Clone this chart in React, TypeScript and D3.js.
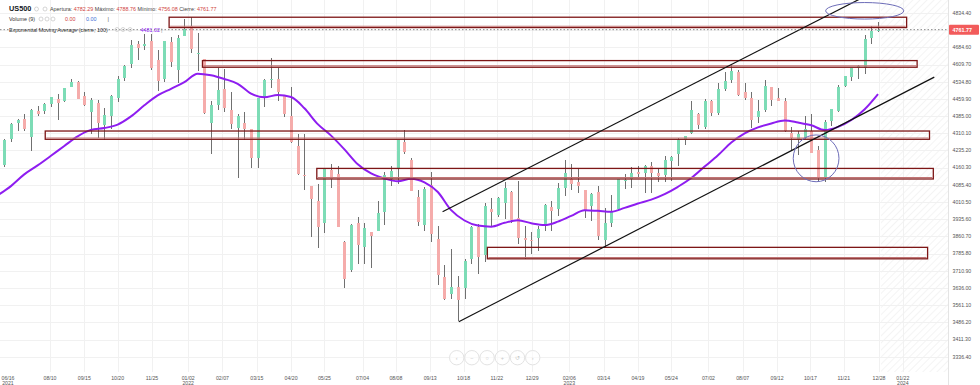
import React, { useEffect, useRef } from "react";
import * as d3 from "d3";

// weekly candles, first week starts on this monday
const firstMonday = "2021-06-14";

const opens = [
  4248, 4174, 4284, 4356, 4372, 4296, 4409, 4406, 4437, 4461,
  4450, 4514, 4535, 4474, 4402, 4443, 4348, 4385, 4463, 4553,
  4610, 4701, 4689, 4712, 4628, 4548, 4710, 4587, 4733, 4778,
  4655, 4632, 4357, 4432, 4505, 4412, 4332, 4354, 4327, 4202,
  4462, 4541, 4547, 4474, 4386, 4255, 4130, 4082, 4013, 3920,
  4151, 4134, 3838, 3715, 3920, 3814, 3880, 3883, 3966, 4112,
  4155, 4270, 4195, 4034, 3910, 4084, 3849, 3682, 3609, 3639,
  3638, 3762, 3901, 3780, 3978, 3956, 4005, 4053, 3939, 3853,
  3843, 3853, 3910, 3989, 3979, 4071, 4111, 4097, 4062, 3992,
  4055, 3845, 3917, 3982, 4102, 4110, 4140, 4135, 4166, 4136,
  4127, 4190, 4220, 4282, 4310, 4396, 4337, 4450, 4399, 4502,
  4543, 4578, 4492, 4464, 4380, 4411, 4510, 4462, 4452, 4310,
  4284, 4290, 4321, 4238, 4120, 4364, 4406, 4515, 4555, 4594,
  4593, 4725, 4759,
];
const highs = [
  4257, 4286, 4356, 4372, 4394, 4415, 4429, 4441, 4469, 4480,
  4509, 4545, 4536, 4492, 4465, 4457, 4419, 4475, 4559, 4608,
  4718, 4714, 4743, 4744, 4672, 4713, 4731, 4740, 4808, 4818,
  4749, 4632, 4453, 4595, 4590, 4490, 4396, 4402, 4327, 4466,
  4546, 4637, 4594, 4471, 4513, 4309, 4308, 4082, 4090, 4158,
  4178, 4169, 3839, 3913, 3946, 3919, 3880, 4013, 4140, 4168,
  4280, 4325, 4203, 4062, 4077, 4140, 3907, 3736, 3807, 3686,
  3762, 3905, 3914, 4005, 4028, 4034, 4100, 4060, 4101, 3906,
  3878, 3906, 4003, 4015, 4095, 4195, 4176, 4156, 4062, 4048,
  4079, 3983, 4040, 4110, 4133, 4164, 4169, 4170, 4187, 4154,
  4212, 4212, 4290, 4300, 4449, 4400, 4458, 4456, 4528, 4578,
  4607, 4584, 4528, 4490, 4455, 4541, 4514, 4509, 4466, 4338,
  4319, 4385, 4393, 4255, 4366, 4418, 4521, 4560, 4596, 4609,
  4738, 4778, 4793,
];
const lows = [
  4165, 4164, 4272, 4321, 4322, 4233, 4385, 4393, 4424, 4367,
  4445, 4513, 4458, 4427, 4306, 4289, 4279, 4330, 4447, 4537,
  4595, 4630, 4672, 4585, 4495, 4532, 4600, 4531, 4733, 4662,
  4582, 4395, 4222, 4411, 4401, 4327, 4115, 4279, 4157, 4161,
  4424, 4506, 4450, 4381, 4268, 4129, 4062, 3859, 3810, 3876,
  4073, 3901, 3636, 3705, 3739, 3742, 3722, 3883, 3911, 4079,
  4087, 4218, 4057, 3906, 3884, 3837, 3647, 3584, 3588, 3491,
  3590, 3739, 3698, 3751, 3906, 3944, 3938, 3918, 3828, 3764,
  3784, 3795, 3885, 3885, 3949, 4037, 4061, 4048, 3943, 3928,
  3846, 3808, 3902, 3971, 4069, 4072, 4114, 4049, 4049, 4098,
  4099, 4103, 4166, 4261, 4308, 4328, 4328, 4385, 4389, 4493,
  4528, 4474, 4457, 4335, 4356, 4405, 4430, 4449, 4316, 4238,
  4216, 4284, 4223, 4103, 4098, 4342, 4402, 4510, 4537, 4546,
  4568, 4699, 4751,
];
const closes = [
  4166, 4281, 4352, 4370, 4327, 4412, 4395, 4437, 4468, 4441,
  4509, 4535, 4458, 4433, 4455, 4357, 4391, 4471, 4545, 4605,
  4697, 4683, 4698, 4595, 4538, 4712, 4620, 4725, 4766, 4677,
  4662, 4398, 4432, 4500, 4419, 4349, 4385, 4329, 4204, 4463,
  4543, 4546, 4488, 4393, 4272, 4132, 4123, 4023, 3901, 4158,
  4109, 3901, 3675, 3912, 3825, 3899, 3863, 3962, 4130, 4145,
  4280, 4228, 4058, 3924, 4067, 3873, 3693, 3586, 3639, 3583,
  3752, 3901, 3771, 3993, 3965, 4026, 4072, 3934, 3852, 3845,
  3840, 3895, 3999, 3973, 4071, 4136, 4090, 4079, 3970, 4046,
  3862, 3917, 3971, 4109, 4105, 4138, 4133, 4169, 4136, 4124,
  4192, 4205, 4282, 4299, 4410, 4348, 4450, 4399, 4505, 4536,
  4582, 4478, 4464, 4370, 4406, 4515, 4457, 4450, 4320, 4288,
  4309, 4327, 4224, 4117, 4358, 4415, 4514, 4559, 4595, 4604,
  4719, 4755, 4761.77,
];

// EMA(100), one value every 2 weeks
const emaValues = [
  4040, 4080, 4131, 4170, 4212, 4255, 4297, 4325, 4333, 4348,
  4384, 4432, 4475, 4504, 4533, 4570, 4563, 4547, 4526, 4483,
  4467, 4477, 4468, 4419, 4350, 4300, 4240, 4175, 4135, 4113,
  4101, 4112, 4096, 4054, 3975, 3930, 3908, 3903, 3920, 3931,
  3918, 3910, 3925, 3950, 3975, 3972, 3968, 3985, 4004, 4021,
  4045, 4077, 4115, 4165, 4214, 4270, 4310, 4336, 4353, 4366,
  4357, 4345, 4324, 4338, 4368, 4415, 4481,
];

const lastBar = { open: "4782.29", high: "4788.76", low: "4756.08", close: 4761.77 };
const emaLast = "4481.02";

const priceTicks = [
  3336.4, 3411.3, 3486.2, 3561.1, 3636.0, 3710.9, 3785.8, 3860.7, 3935.6,
  4010.5, 4085.4, 4160.3, 4235.2, 4310.1, 4385.0, 4459.9, 4534.8, 4609.7,
  4684.6, 4759.5, 4834.4,
];

const dateTicks: [string, string, string][] = [
  ["2021-06-16", "06/16", "2021"], ["2021-08-10", "08/10", ""], ["2021-09-15", "09/15", ""],
  ["2021-10-20", "10/20", ""], ["2021-11-25", "11/25", ""], ["2022-01-02", "01/02", "2022"],
  ["2022-02-07", "02/07", ""], ["2022-03-15", "03/15", ""], ["2022-04-20", "04/20", ""],
  ["2022-05-25", "05/25", ""], ["2022-07-04", "07/04", ""], ["2022-08-08", "08/08", ""],
  ["2022-09-13", "09/13", ""], ["2022-10-18", "10/18", ""], ["2022-11-22", "11/22", ""],
  ["2022-12-29", "12/29", ""], ["2023-02-06", "02/06", "2023"], ["2023-03-14", "03/14", ""],
  ["2023-04-19", "04/19", ""], ["2023-05-24", "05/24", ""], ["2023-07-02", "07/02", ""],
  ["2023-08-07", "08/07", ""], ["2023-09-12", "09/12", ""], ["2023-10-17", "10/17", ""],
  ["2023-11-21", "11/21", ""], ["2023-12-28", "12/28", ""], ["2024-01-22", "01/22", "2024"],
];

// drawn annotations (date / price)
const zones = [
  { from: "2021-12-13", to: "2024-01-26", top: 4816, bottom: 4771 },
  { from: "2022-01-17", to: "2024-02-06", top: 4627, bottom: 4598 },
  { from: "2021-08-05", to: "2024-02-19", top: 4320, bottom: 4284 },
  { from: "2022-05-17", to: "2024-02-23", top: 4157, bottom: 4111 },
  { from: "2022-11-12", to: "2024-02-17", top: 3813, bottom: 3763 },
];
const trendLines = [
  { d1: "2022-09-26", p1: 3968, d2: "2023-12-20", p2: 4921 },
  { d1: "2022-10-13", p1: 3489, d2: "2024-02-24", p2: 4555 },
];
const ellipses = [
  { date: "2023-12-13", price: 4844, days: 41, points: 36 },
  { date: "2023-10-23", price: 4201, days: 24, points: 102 },
];

const W = 980;
const H = 385;
const plotRight = 948;
const plotBottom = 372;
const font = "'Liberation Sans', Arial, sans-serif";

const App = () => {
  const myRef = useRef<SVGSVGElement>(null);

  useEffect(() => {
    const svg = d3.select(myRef.current);
    svg.selectAll("*").remove();
    const parse = d3.timeParse("%Y-%m-%d");
    const start = parse(firstMonday)!;

    const candles = opens.map((o, k) => ({
      date: d3.timeDay.offset(start, 7 * k + 2),
      o, h: highs[k], l: lows[k], c: closes[k],
    }));
    const ema = emaValues.map((v, i) => ({ date: d3.timeDay.offset(start, 14 * i + 2), v }));

    const x = d3.scaleTime()
      .domain([parse("2021-08-10")!, parse("2023-12-28")!])
      .range([50, 879]);
    const y = d3.scaleLinear().domain([3336.4, 4834.4]).range([356.7, 13]);

    const defs = svg.append("defs");
    defs.append("clipPath").attr("id", "plot").append("rect")
      .attr("x", 0).attr("y", 0).attr("width", plotRight).attr("height", plotBottom);
    const pat = defs.append("pattern").attr("id", "hatch")
      .attr("patternUnits", "userSpaceOnUse").attr("width", 5).attr("height", 5)
      .attr("patternTransform", "rotate(45)");
    pat.append("line").attr("x1", 0).attr("y1", 0).attr("x2", 0).attr("y2", 5)
      .attr("stroke", "#ececec").attr("stroke-width", 1.2);

    svg.append("rect").attr("width", W).attr("height", H).attr("fill", "#fff");

    // future area
    const lastX = x(candles[candles.length - 1].date);
    svg.append("rect").attr("x", lastX + 3).attr("y", 0)
      .attr("width", plotRight - lastX - 3).attr("height", plotBottom)
      .attr("fill", "url(#hatch)");

    // grid
    const grid = svg.append("g").attr("shape-rendering", "crispEdges");
    grid.selectAll(".hg").data(priceTicks).join("line")
      .attr("x1", 0).attr("x2", plotRight)
      .attr("y1", (d) => Math.round(y(d)) + 0.5).attr("y2", (d) => Math.round(y(d)) + 0.5)
      .attr("stroke", "#f1f1f1");
    grid.selectAll(".vg").data(dateTicks).join("line")
      .attr("x1", (d) => Math.round(x(parse(d[0])!)) + 0.5)
      .attr("x2", (d) => Math.round(x(parse(d[0])!)) + 0.5)
      .attr("y1", 0).attr("y2", plotBottom)
      .attr("stroke", "#f1f1f1");
    svg.append("line").attr("x1", plotRight + 0.5).attr("x2", plotRight + 0.5)
      .attr("y1", 0).attr("y2", H).attr("stroke", "#e4e4e4");

    const plot = svg.append("g").attr("clip-path", "url(#plot)");

    // candles
    const cg = plot.append("g").attr("shape-rendering", "crispEdges");
    cg.selectAll(".wick").data(candles).join("line")
      .attr("x1", (d) => Math.round(x(d.date)) + 0.5)
      .attr("x2", (d) => Math.round(x(d.date)) + 0.5)
      .attr("y1", (d) => y(d.h)).attr("y2", (d) => y(d.l))
      .attr("stroke", "#707070");
    cg.selectAll(".body").data(candles).join("rect")
      .attr("x", (d) => Math.round(x(d.date)) - 1)
      .attr("width", 3)
      .attr("y", (d) => y(Math.max(d.o, d.c)))
      .attr("height", (d) => Math.max(1, Math.abs(y(d.o) - y(d.c))))
      .attr("fill", (d) => (d.c >= d.o ? "#7ddcb6" : "#f5acab"));

    // EMA
    const emaLine = d3.line<{ date: Date; v: number }>()
      .x((d) => x(d.date)).y((d) => y(d.v)).curve(d3.curveMonotoneX);
    plot.append("path").attr("d", emaLine(ema)!)
      .attr("fill", "none").attr("stroke", "#8e1df0").attr("stroke-width", 2);

    // zones
    const zg = plot.append("g");
    zones.forEach((z) => {
      const x1 = x(parse(z.from)!);
      const x2 = x(parse(z.to)!);
      zg.append("rect").attr("x", x1).attr("y", y(z.top))
        .attr("width", x2 - x1).attr("height", y(z.bottom) - y(z.top))
        .attr("fill", "none").attr("stroke", "#7d1616").attr("stroke-width", 1.3);
      zg.append("line").attr("x1", x1 + 1).attr("x2", x2 - 1)
        .attr("y1", y(z.bottom) - 1.3).attr("y2", y(z.bottom) - 1.3)
        .attr("stroke", "#c07575").attr("stroke-width", 1.2);
    });

    // trend lines
    plot.selectAll(".trend").data(trendLines).join("line")
      .attr("x1", (d) => x(parse(d.d1)!)).attr("y1", (d) => y(d.p1))
      .attr("x2", (d) => x(parse(d.d2)!)).attr("y2", (d) => y(d.p2))
      .attr("stroke", "#111").attr("stroke-width", 1.2);

    // ellipses
    plot.selectAll(".ell").data(ellipses).join("ellipse")
      .attr("cx", (d) => x(parse(d.date)!))
      .attr("cy", (d) => y(d.price))
      .attr("rx", (d) => x(d3.timeDay.offset(parse(d.date)!, d.days)) - x(parse(d.date)!))
      .attr("ry", (d) => y(d.price - d.points) - y(d.price))
      .attr("fill", "none").attr("stroke", "#6d6db8").attr("stroke-width", 1);

    // last price line
    svg.append("line").attr("x1", 0).attr("x2", plotRight)
      .attr("y1", y(lastBar.close)).attr("y2", y(lastBar.close))
      .attr("stroke", "#888").attr("stroke-dasharray", "1.5,2");

    // zoom buttons
    const btns = ["‹", "−", "○", "+", "↺", "›"];
    const bg = svg.append("g");
    btns.forEach((b, i) => {
      const cx = 456.7 + i * 15.2;
      bg.append("circle").attr("cx", cx).attr("cy", 357.7).attr("r", 7.2)
        .attr("fill", "#fff").attr("fill-opacity", 0.6).attr("stroke", "#e3e3e3");
      bg.append("text").attr("x", cx).attr("y", 359.6).attr("text-anchor", "middle")
        .attr("font-family", font).attr("font-size", 5.5).attr("fill", "#c8c8c8").text(b);
    });

    // y axis
    svg.selectAll(".ylab").data(priceTicks).join("text")
      .attr("x", 952.5).attr("y", (d) => y(d) + 1.8)
      .attr("font-family", font).attr("font-size", 5.2).attr("fill", "#555")
      .text((d) => d.toFixed(2));

    // x axis (first label kept inside the page)
    const labelX = (d: [string, string, string]) => Math.max(8, x(parse(d[0])!));
    const xl = svg.selectAll(".xlab").data(dateTicks).join("text")
      .attr("text-anchor", "middle").attr("font-family", font)
      .attr("font-size", 5.2).attr("fill", "#555");
    xl.append("tspan").attr("x", labelX).attr("y", 379.5).text((d) => d[1]);
    xl.append("tspan").attr("x", labelX).attr("y", 384.6).text((d) => d[2]);

    // last price badge
    const yc = y(lastBar.close);
    svg.append("rect").attr("x", plotRight + 1).attr("y", yc - 5).attr("width", 30).attr("height", 10)
      .attr("fill", "#f25b5b").attr("rx", 1);
    svg.append("text").attr("x", 952.5).attr("y", yc + 2)
      .attr("font-family", font).attr("font-size", 5.4).attr("font-weight", "bold")
      .attr("fill", "#fff").text(lastBar.close.toFixed(2));

    // header
    const hdr = svg.append("g").attr("font-family", font);
    hdr.append("text").attr("x", 9).attr("y", 11).attr("font-size", 7.3)
      .attr("font-weight", "bold").attr("fill", "#131722").text("US500");
    const icon = (cx: number, cy: number) =>
      hdr.append("circle").attr("cx", cx).attr("cy", cy).attr("r", 2)
        .attr("fill", "none").attr("stroke", "#c4c4c4").attr("stroke-width", 0.7);
    [36.5, 45].forEach((cx) => icon(cx, 9));
    [41, 47, 53].forEach((cx) => icon(cx, 19));
    [117, 123, 130].forEach((cx) => icon(cx, 29.5));

    const l1 = hdr.append("text").attr("x", 50).attr("y", 11).attr("font-size", 5.4).attr("fill", "#444");
    const parts: [string, boolean][] = [
      ["Apertura: ", false], [lastBar.open, true], [" Máximo: ", false], [lastBar.high, true],
      [" Mínimo: ", false], [lastBar.low, true], [" Cierre: ", false], [lastBar.close.toFixed(2), true],
    ];
    parts.forEach(([t, red]) => l1.append("tspan").attr("fill", red ? "#d0443e" : "#444").text(t));

    hdr.append("text").attr("x", 9).attr("y", 21).attr("font-size", 5.4).attr("fill", "#333").text("Volume (9)");
    hdr.append("text").attr("x", 65).attr("y", 21).attr("font-size", 5.4).attr("fill", "#d0443e").text("0.00");
    hdr.append("text").attr("x", 86).attr("y", 21).attr("font-size", 5.4).attr("fill", "#3b6fd6").text("0.00");
    hdr.append("text").attr("x", 107.5).attr("y", 21).attr("font-size", 5.4).attr("fill", "#555").text("|");

    hdr.append("text").attr("x", 9).attr("y", 31.5).attr("font-size", 5.4).attr("fill", "#333")
      .text("Exponential Moving Average (cierre, 100)");
    hdr.append("text").attr("x", 140.5).attr("y", 31.5).attr("font-size", 5.4).attr("fill", "#8e1df0")
      .text(emaLast);
    hdr.append("text").attr("x", 161).attr("y", 31.5).attr("font-size", 5.4).attr("fill", "#999").text("|");
  }, []);

  return (
    <svg
      ref={myRef}
      width={W}
      height={H}
      style={{ position: "absolute", left: 0, top: 0, display: "block" }}
    />
  );
};

export default App;
